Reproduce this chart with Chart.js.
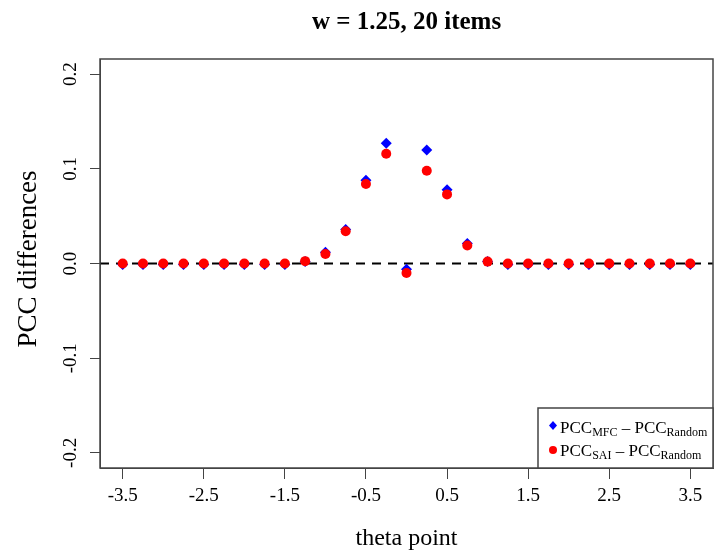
<!DOCTYPE html>
<html>
<head>
<meta charset="utf-8">
<script src="https://cdn.jsdelivr.net/npm/chart.js@4.4.1/dist/chart.umd.min.js"></script>
<style>
	html, body { margin: 0; padding: 0; background: #ffffff; }
	#chartPreview { display: block; }
</style>
</head>
<body>
<canvas id="chartPreview" width="715" height="550"></canvas>
<script>
;(function () {
	'use strict';

	const thetaPoints = [-3.5, -3.25, -3, -2.75, -2.5, -2.25, -2, -1.75, -1.5, -1.25, -1, -0.75, -0.5, -0.25, 0, 0.25, 0.5, 0.75, 1, 1.25, 1.5, 1.75, 2, 2.25, 2.5, 2.75, 3, 3.25, 3.5];
	const mfcDiff = [-0.001, -0.001, -0.001, -0.001, -0.001, -0.001, -0.001, -0.001, -0.001, 0.002, 0.012, 0.036, 0.088, 0.127, -0.006, 0.120, 0.078, 0.021, 0.002, -0.001, -0.001, -0.001, -0.001, -0.001, -0.001, -0.001, -0.001, -0.001, -0.001];
	const saiDiff = [0, 0, 0, 0, 0, 0, 0, 0, 0, 0.0025, 0.010, 0.034, 0.084, 0.116, -0.010, 0.098, 0.073, 0.019, 0.002, 0, 0, 0, 0, 0, 0, 0, 0, 0, 0];
	const xTicks = [-3.5, -2.5, -1.5, -0.5, 0.5, 1.5, 2.5, 3.5];
	const yTicks = [-0.2, -0.1, 0, 0.1, 0.2];
	const yTickLabels = ['-0.2', '-0.1', '0.0', '0.1', '0.2'];

	const serif = '"Liberation Serif", "DejaVu Serif", serif';
	const axisColor = '#444444';

	const toPoints = function (values) {
		return thetaPoints.map((x, idx) => ({ x: x, y: values[idx] }));
	}

	// text runs like PCC + subscript
	const drawRuns = function (ctx, x, y, runs) {
		let cursor = x;
		runs.forEach(function (run) {
			ctx.font = run[1] ? '12px ' + serif : '17px ' + serif;
			ctx.fillText(run[0], cursor, run[1] ? y + 3 : y);
			cursor += ctx.measureText(run[0]).width;
		});
	}

	const decorPlugin = {
		id: 'decor',
		beforeDatasetsDraw(chart) {
			const ctx = chart.ctx;
			const area = chart.chartArea;
			const zeroY = chart.scales.y.getPixelForValue(0);
			ctx.save();
			ctx.strokeStyle = '#000000';
			ctx.lineWidth = 2;
			ctx.setLineDash([9, 7]);
			ctx.beginPath();
			ctx.moveTo(area.left, zeroY);
			ctx.lineTo(area.right, zeroY);
			ctx.stroke();
			ctx.restore();
		},
		afterDraw(chart) {
			const ctx = chart.ctx;
			const area = chart.chartArea;
			const yScale = chart.scales.y;

			ctx.save();
			ctx.strokeStyle = axisColor;
			ctx.lineWidth = 1.5;
			ctx.strokeRect(area.left, area.top, area.right - area.left, area.bottom - area.top);

			// title
			ctx.fillStyle = '#000000';
			ctx.textAlign = 'center';
			ctx.textBaseline = 'alphabetic';
			ctx.font = 'bold 25px ' + serif;
			ctx.fillText('w = 1.25, 20 items', (area.left + area.right) / 2, 29);

			// rotated y tick labels
			ctx.font = '19px ' + serif;
			ctx.textBaseline = 'middle';
			yTicks.forEach(function (value, idx) {
				ctx.save();
				ctx.translate(71, yScale.getPixelForValue(value));
				ctx.rotate(-Math.PI / 2);
				ctx.fillText(yTickLabels[idx], 0, 0);
				ctx.restore();
			});

			// y title
			ctx.save();
			ctx.translate(36, 259);
			ctx.rotate(-Math.PI / 2);
			ctx.textBaseline = 'alphabetic';
			ctx.font = '27px ' + serif;
			ctx.fillText('PCC differences', 0, 0);
			ctx.restore();

			// legend
			const boxLeft = 538;
			const boxTop = 408;
			ctx.fillStyle = '#ffffff';
			ctx.fillRect(boxLeft, boxTop, area.right - boxLeft, area.bottom - boxTop);
			ctx.lineWidth = 1.5;
			ctx.strokeRect(boxLeft, boxTop, area.right - boxLeft, area.bottom - boxTop);

			ctx.fillStyle = '#0000ff';
			ctx.beginPath();
			ctx.moveTo(553, 421);
			ctx.lineTo(557, 425.5);
			ctx.lineTo(553, 430);
			ctx.lineTo(549, 425.5);
			ctx.closePath();
			ctx.fill();

			ctx.fillStyle = '#ff0000';
			ctx.beginPath();
			ctx.arc(553, 450, 4, 0, Math.PI * 2);
			ctx.fill();

			ctx.fillStyle = '#000000';
			ctx.textAlign = 'left';
			ctx.textBaseline = 'alphabetic';
			drawRuns(ctx, 560, 433, [['PCC', false], ['MFC', true], [' \u2013 PCC', false], ['Random', true]]);
			drawRuns(ctx, 560, 456, [['PCC', false], ['SAI', true], [' \u2013 PCC', false], ['Random', true]]);
			ctx.restore();
		}
	}

	const handleInitialChart = function () {
		const chart = document.getElementById('chartPreview').getContext('2d');

		new Chart(chart, {
			type: 'scatter',
			data: {
				datasets: [
					{
						label: 'PCC MFC - PCC Random',
						data: toPoints(mfcDiff),
						pointStyle: 'rectRot',
						pointRadius: 5.5,
						backgroundColor: '#0000ff',
						borderColor: '#0000ff',
						borderWidth: 0,
						order: 2
					},
					{
						label: 'PCC SAI - PCC Random',
						data: toPoints(saiDiff),
						pointStyle: 'circle',
						pointRadius: 5,
						backgroundColor: '#ff0000',
						borderColor: '#ff0000',
						borderWidth: 0,
						order: 1
					}
				]
			},
			options: {
				responsive: false,
				animation: false,
				devicePixelRatio: 1,
				layout: {
					autoPadding: false,
					padding: { top: 59, right: 2, left: 0, bottom: 0 }
				},
				plugins: {
					legend: { display: false },
					title: { display: false },
					tooltip: { enabled: false }
				},
				scales: {
					x: {
						type: 'linear',
						min: -3.78,
						max: 3.78,
						afterBuildTicks: function (scale) {
							scale.ticks = xTicks.map(v => ({ value: v }));
						},
						afterFit: function (scale) {
							scale.height = 82;
							scale.paddingLeft = 0;
							scale.paddingRight = 0;
						},
						grid: {
							drawOnChartArea: false,
							drawTicks: true,
							tickLength: 11,
							color: axisColor,
							lineWidth: 1
						},
						border: { display: true, color: axisColor, width: 1 },
						ticks: {
							autoSkip: false,
							maxRotation: 0,
							padding: 6,
							color: '#000000',
							font: { family: serif, size: 19 },
							callback: function (value) {
								return String(value);
							}
						},
						title: {
							display: true,
							text: 'theta point',
							color: '#000000',
							font: { family: serif, size: 24 },
							padding: { top: 0, bottom: -3 }
						}
					},
					y: {
						type: 'linear',
						min: -0.216,
						max: 0.216,
						afterBuildTicks: function (scale) {
							scale.ticks = yTicks.map(v => ({ value: v }));
						},
						afterFit: function (scale) {
							scale.width = 100;
							scale.paddingTop = 0;
							scale.paddingBottom = 0;
						},
						grid: {
							drawOnChartArea: false,
							drawTicks: true,
							tickLength: 10,
							color: axisColor,
							lineWidth: 1
						},
						border: { display: true, color: axisColor, width: 1 },
						ticks: { display: false }
					}
				}
			},
			plugins: [decorPlugin]
		});
	}

	handleInitialChart();
})();
</script>
</body>
</html>
